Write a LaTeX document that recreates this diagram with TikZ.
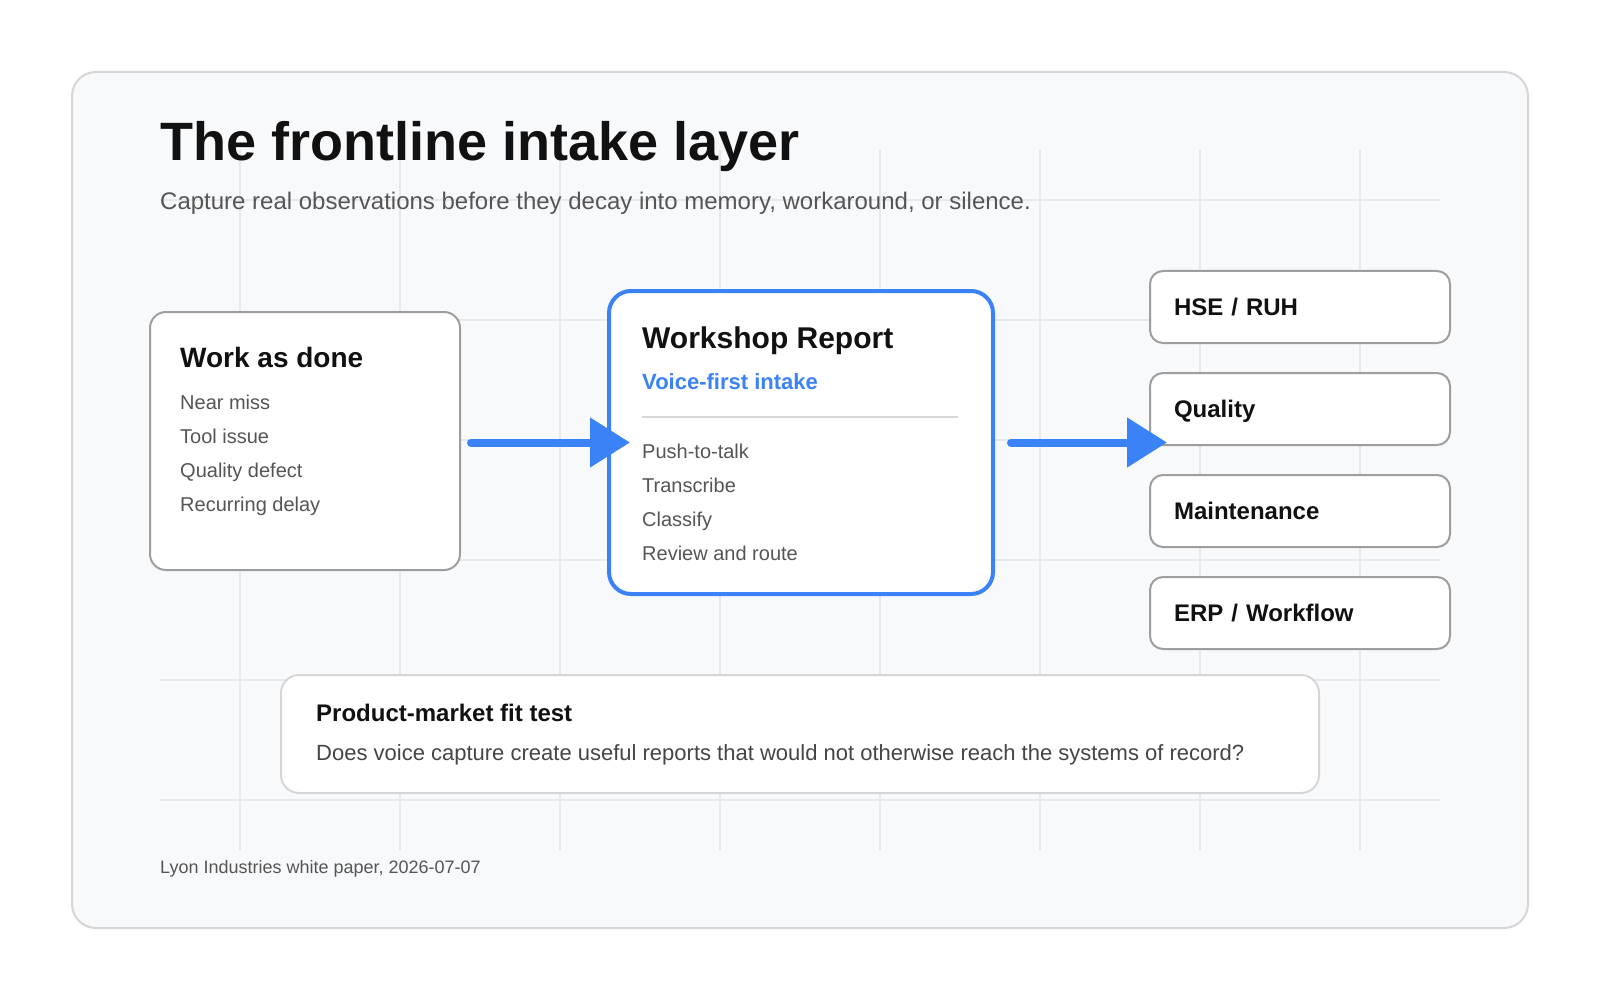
\documentclass[tikz,border=0pt]{standalone}
\usepackage{fontspec}
\setmainfont{Liberation Sans}
\usetikzlibrary{arrows.meta,positioning}
\definecolor{panelbg}{HTML}{F8F9FB}
\definecolor{panelline}{HTML}{D6D6D6}
\definecolor{gridline}{HTML}{E7E8EB}
\definecolor{boxline}{HTML}{9E9E9E}
\definecolor{accent}{HTML}{3B82F6}
\definecolor{ink}{HTML}{111111}
\definecolor{mute}{HTML}{555555}
\tikzset{
  card/.style={draw=boxline,line width=2pt,fill=white,rounded corners=16pt,anchor=north west,inner sep=0pt},
  dest/.style={card,rounded corners=13pt,minimum width=300pt,minimum height=72pt,text width=252pt,inner xsep=24pt,
    text height=17pt,text depth=0pt,align=left,font=\fontsize{24}{28}\selectfont\bfseries,text=ink},
  txt/.style={anchor=base west,inner sep=0pt,text=mute,font=\fontsize{20}{24}\selectfont},
  head/.style={anchor=base west,inner sep=0pt,text=ink,font=\fontsize{#1}{#1}\selectfont\bfseries},
  flow/.style={draw=accent,line width=8pt,line cap=round,-{Triangle[length=40pt,width=48pt]}},
}
\begin{document}
\begin{tikzpicture}[x=1pt,y=-1pt]
  \useasboundingbox (0,0) rectangle (1600,1000);
  \fill[white] (0,0) rectangle (1600,1000);
  \draw[panelline,fill=panelbg,line width=2pt,rounded corners=24pt] (72,72) rectangle (1528,928); %panel
  \foreach \gx in {240,400,...,1360} \draw[gridline,line width=1.5pt] (\gx,150) -- (\gx,850); %grid
  \foreach \gy in {200,320,...,800} \draw[gridline,line width=1.5pt] (160,\gy) -- (1440,\gy);
  \node[head=54] (title) at (160,161) {The frontline intake layer};
  \node[anchor=base west,inner sep=0pt,text=mute,font=\fontsize{24}{28}\selectfont] (subtitle) at (160,210)
    {Capture real observations before they decay into memory, workaround, or silence.};
  %work as done
  \node[card,minimum width=310pt,minimum height=258pt] (work) at (149,311) {};
  \node[head=28] (worktitle) at (180,367) {Work as done};
  \node[txt] (near) at (180,409) {Near miss};
  \node[txt] (tool) at (180,443) {Tool issue};
  \node[txt] (defect) at (180,477) {Quality defect};
  \node[txt] (delay) at (180,511) {Recurring delay};
  %workshop report
  \node[card,draw=accent,line width=4pt,rounded corners=22pt,minimum width=384pt,minimum height=303pt] (report) at (607,289) {};
  \node[head=30] (reporttitle) at (642,348) {Workshop Report};
  \node[head=22,text=accent] (voice) at (642,389) {Voice-first intake};
  \draw[panelline,line width=2pt] (642,417) -- (958,417);
  \node[txt] (push) at (642,458) {Push-to-talk};
  \node[txt] (transcribe) at (642,492) {Transcribe};
  \node[txt] (classify) at (642,526) {Classify};
  \node[txt] (route) at (642,560) {Review and route};
  %systems of record
  \foreach \nm/\ty/\lbl in {hse/270/{HSE / RUH},quality/372/Quality,maint/474/Maintenance,erp/576/{ERP / Workflow}}
    \node[dest] (\nm) at (1149,\ty) {\lbl};
  \coordinate (wout) at (work.east |- report.west);
  \coordinate (qin) at (report.east -| quality.west);
  \draw[flow] ([xshift=10pt]wout) -- ([xshift=23pt]report.west);
  \draw[flow] ([xshift=16pt]report.east) -- ([xshift=18pt]qin);
  %fit test
  \node[card,draw=panelline,rounded corners=18pt,minimum width=1038pt,minimum height=118pt] (fit) at (280,674) {};
  \node[head=24] (fittitle) at (316,721) {Product-market fit test};
  \node[txt,text=black!73,font=\fontsize{22}{26}\selectfont] (question) at (316,760)
    {Does voice capture create useful reports that would not otherwise reach the systems of record?};
  \node[txt,font=\fontsize{18}{22}\selectfont] (footer) at (160,873) {Lyon Industries white paper, 2026-07-07};
\end{tikzpicture}
\end{document}
